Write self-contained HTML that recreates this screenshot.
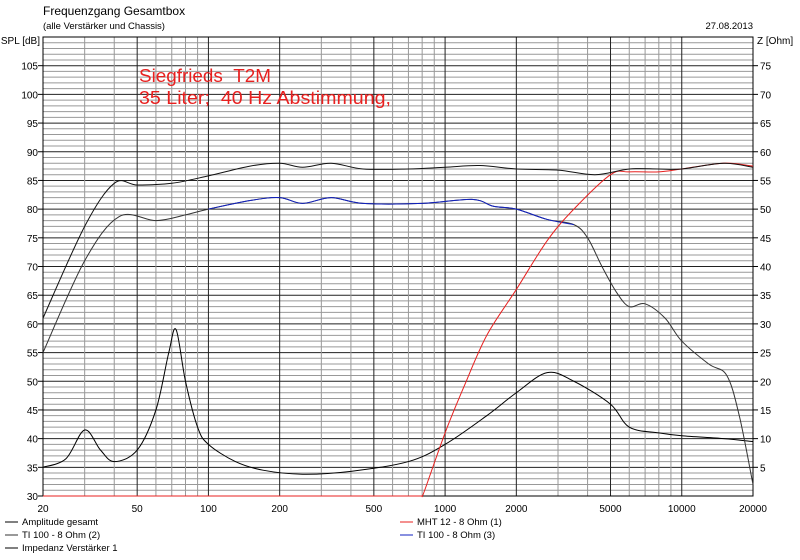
<!DOCTYPE html>
<html><head><meta charset="utf-8"><style>
body{margin:0;background:#fff;width:800px;height:555px;overflow:hidden;font-family:"Liberation Sans",sans-serif}
</style></head><body>
<svg id="s" width="800" height="555" xmlns="http://www.w3.org/2000/svg" font-family="Liberation Sans, sans-serif" font-size="10">
<rect width="800" height="555" fill="#fff"/>
<text x="43" y="15" font-size="12">Frequenzgang Gesamtbox</text>
<text x="43" y="29" font-size="9.5">(alle Verstärker und Chassis)</text>
<text x="753" y="29" font-size="9.5" text-anchor="end">27.08.2013</text>
<text x="40" y="44" font-size="10" text-anchor="end">SPL [dB]</text>
<text x="757" y="44" font-size="10">Z [Ohm]</text>
<g id="grid"></g>
<g id="curves"></g>
<text x="139" y="82" font-size="18" fill="#e8201f" textLength="132" lengthAdjust="spacingAndGlyphs">Siegfrieds&#160;&#160;T2M</text>
<text x="139" y="104" font-size="18" fill="#e8201f" textLength="252" lengthAdjust="spacingAndGlyphs">35 Liter;&#160;&#160;40 Hz Abstimmung,</text>
<g font-size="9.5">
<line x1="5" x2="18" y1="522" y2="522" stroke="#000"/><text x="22" y="525">Amplitude gesamt</text>
<line x1="5" x2="18" y1="535" y2="535" stroke="#333"/><text x="22" y="538">TI 100 - 8 Ohm (2)</text>
<line x1="5" x2="18" y1="548" y2="548" stroke="#000"/><text x="22" y="551">Impedanz Verstärker 1</text>
<line x1="400" x2="413" y1="522" y2="522" stroke="#e8201f"/><text x="417" y="525">MHT 12 - 8 Ohm (1)</text>
<line x1="400" x2="413" y1="535" y2="535" stroke="#1020c0"/><text x="417" y="538">TI 100 - 8 Ohm (3)</text>
</g>
</svg>
<script>
const L=43,R=753,T=37,B=496,dec=(R-L)/3,ppd=(B-T)/80;
const xf=f=>L+dec*Math.log10(f/20), yd=d=>B-ppd*(d-30);
let g='';
for(let d=30;d<=110;d++){const y=yd(d);const maj=d%5==0;
 g+=`<line x1="${L}" x2="${R}" y1="${y}" y2="${y}" stroke="${maj?'#222':'#999'}" stroke-width="1"/>`;
 if(maj&&d<110){g+=`<text x="38" y="${y+4}" text-anchor="end">${d}</text><line x1="38" x2="${L}" y1="${y}" y2="${y}" stroke="#000"/>`;
 if(d>30)g+=`<text x="760" y="${y+4}">${d-30}</text><line x1="${R}" x2="758" y1="${y}" y2="${y}" stroke="#000"/>`;}}
for(let e=1;e<=4;e++)for(let m=1;m<10;m++){const f=m*Math.pow(10,e);if(f<20||f>20000)continue;const x=xf(f);
 const maj=(m==1||m==2||m==5);
 g+=`<line x1="${x}" x2="${x}" y1="${T}" y2="${B}" stroke="${maj?'#222':'#999'}"/>`;
 if(maj)g+=`<text x="${x}" y="512" text-anchor="middle">${f}</text>`;}
g+=`<rect x="${L}" y="${T}" width="${R-L}" height="${B-T}" fill="none" stroke="#000"/>`;
document.getElementById('grid').innerHTML=g;
function path(pts,col){
 const P=pts.map(p=>[xf(p[0]),yd(p[1])]);let s=`M${P[0][0]},${P[0][1]}`;
 for(let i=0;i<P.length-1;i++){const p0=P[Math.max(0,i-1)],p1=P[i],p2=P[i+1],p3=P[Math.min(P.length-1,i+2)];
  const c1=[p1[0]+(p2[0]-p0[0])/6,p1[1]+(p2[1]-p0[1])/6],c2=[p2[0]-(p3[0]-p1[0])/6,p2[1]-(p3[1]-p1[1])/6];
  s+=`C${c1[0]},${c1[1]} ${c2[0]},${c2[1]} ${p2[0]},${p2[1]}`;}
 return `<path d="${s}" fill="none" stroke="${col}" stroke-width="1"/>`;}
const amp=[[20,61],[30,77],[40,84.5],[50,84.2],[70,84.5],[100,85.8],[150,87.5],[200,88],[250,87.3],[330,88],[450,87],[700,87],[1000,87.3],[1400,87.6],[2000,87],[3000,86.8],[4300,86],[6000,87],[8000,87],[10000,87],[15000,88],[20000,87.3]];
const ti=[[20,55],[30,71],[42,78.7],[60,78],[80,79],[100,80],[150,81.5],[200,82],[250,81],[330,82],[450,81],[800,81],[1300,81.7],[1600,80.5],[2000,80],[2700,78.2],[3500,77.3],[4000,75],[4600,70],[5300,65.5],[6000,63],[7000,63.5],[8500,61],[10000,57],[13000,53],[15500,51],[17500,44],[20000,32]];
const tib=ti.filter(p=>p[0]>=100&&p[0]<=3500);
const red=[[20,30],[800,30],[820,31],[1000,41],[1200,49],[1500,58],[2000,66],[2700,74.5],[3500,80],[5000,86],[6000,86.5],[8000,86.5],[10000,87],[15000,88],[20000,87.5]];
const imp=[[20,35],[25,36.5],[30,41.5],[35,38],[40,36],[50,38],[60,45],[68,55],[73,59],[80,50],[90,42],[100,39],[130,36],[170,34.5],[250,33.8],[400,34.3],[700,36],[1000,39],[1500,44],[2000,48],[2700,51.5],[3500,50],[5000,46],[6000,42],[8000,41],[10000,40.5],[15000,40],[20000,39.5]];
document.getElementById('curves').innerHTML=path(imp,'#000')+path(ti,'#333')+path(tib,'#1020c0')+path(red.slice(0,2),'#e8201f')+path(red.slice(1),'#e8201f')+path(amp,'#111');
</script>
</body></html>
